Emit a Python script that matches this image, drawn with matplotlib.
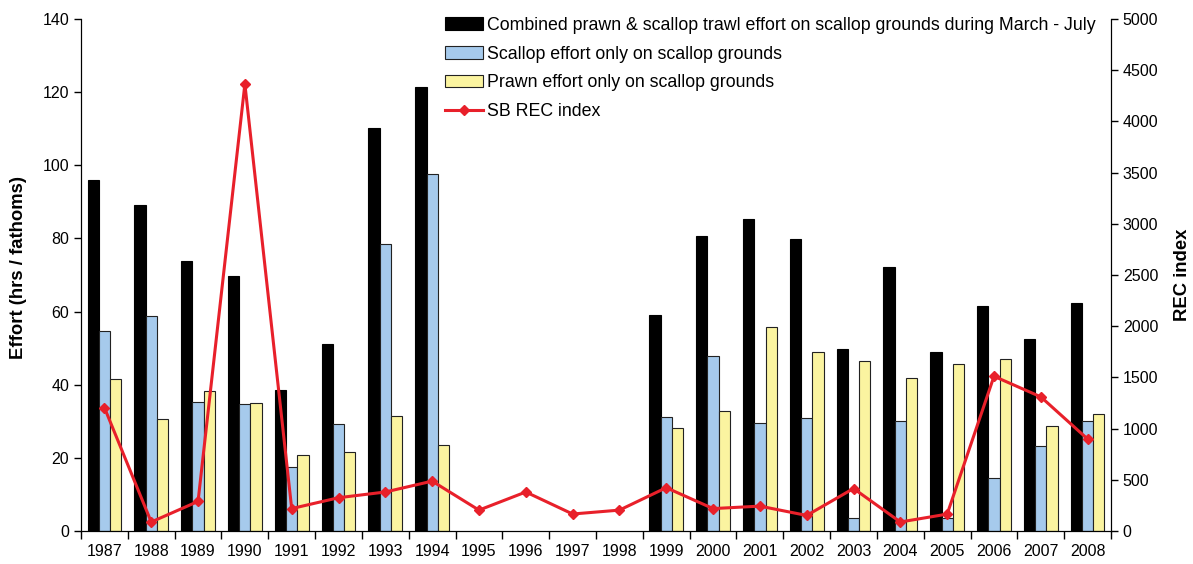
import numpy as np
import matplotlib
matplotlib.use("Agg")
import matplotlib.pyplot as plt

plt.rcParams['font.family'] = ['Liberation Sans', 'DejaVu Sans']

years = [str(y) for y in range(1987, 2009)]
combined = [96.1, 89.2, 73.7, 69.6, 38.5, 51.0, 110.1, 121.5,
            np.nan, np.nan, np.nan, np.nan,
            59.2, 80.8, 85.4, 79.9, 49.8, 72.2, 49.0, 61.5, 52.5, 62.3]
scallop = [54.7, 58.8, 35.3, 34.6, 17.5, 29.2, 78.6, 97.5,
           np.nan, np.nan, np.nan, np.nan,
           31.1, 47.8, 29.6, 30.8, 3.5, 30.1, 3.5, 14.5, 23.2, 30.1]
prawn = [41.5, 30.5, 38.4, 34.9, 20.8, 21.6, 31.5, 23.6,
         np.nan, np.nan, np.nan, np.nan,
         28.1, 32.7, 55.8, 49.0, 46.6, 41.8, 45.6, 47.0, 28.8, 31.9]
rec_index = [1205, 88, 289, 4365, 219, 325, 381, 487, 204, 381, 166, 204,
             423, 219, 243, 152, 415, 88, 165, 1511, 1310, 898]

x = np.arange(len(years))
w = 0.24

fig = plt.figure(figsize=(11.93, 5.64), dpi=100)
ax = fig.add_axes([0.0679, 0.0585, 0.8634, 0.9078])
ax2 = ax.twinx()

b1 = ax.bar(x - w, combined, w, color='black', edgecolor='black', linewidth=0.8,
            label='Combined prawn & scallop trawl effort on scallop grounds during March - July')
b2 = ax.bar(x, scallop, w, color='#a6caec', edgecolor='#222222', linewidth=0.8,
            label='Scallop effort only on scallop grounds')
b3 = ax.bar(x + w, prawn, w, color='#fbf4a0', edgecolor='#222222', linewidth=0.8,
            label='Prawn effort only on scallop grounds')
ln, = ax2.plot(x, rec_index, color='#e8202a', linewidth=2.2, marker='D',
               markersize=5, label='SB REC index')

ax.set_xlim(-0.5, len(years) - 0.5)
ax.set_ylim(0, 140)
ax.set_yticks(range(0, 141, 20))
ax2.set_ylim(0, 5000)
ax2.set_yticks(range(0, 5001, 500))

# year labels sit between the tick marks
ax.set_xticks(np.arange(-0.5, len(years)), minor=False)
ax.set_xticklabels([])
ax.set_xticks(x, minor=True)
ax.set_xticklabels(years, minor=True)
ax.tick_params(axis='x', which='major', direction='out', length=6, width=1)
ax.tick_params(axis='x', which='minor', length=0, labelsize=11.5, pad=9)
ax.tick_params(axis='y', direction='out', length=5, width=1, labelsize=11.5)
ax2.tick_params(axis='y', direction='out', length=5, width=1, labelsize=11.5)

for a in (ax, ax2):
    a.spines['top'].set_visible(False)
ax.set_ylabel('Effort (hrs / fathoms)', fontsize=13.3, fontweight='bold')
ax.yaxis.set_label_coords(-0.052, 0.514)
ax2.set_ylabel('REC index', fontsize=13.3, fontweight='bold', labelpad=11)

ax2.legend(handles=[b1, b2, b3, ln], loc='upper right', bbox_to_anchor=(0.995, 1.025),
           frameon=False, fontsize=12.8, handlelength=2.15, handletextpad=0.2,
           labelspacing=0.66, borderaxespad=0.2)

fig.savefig('out.png', dpi=100)
